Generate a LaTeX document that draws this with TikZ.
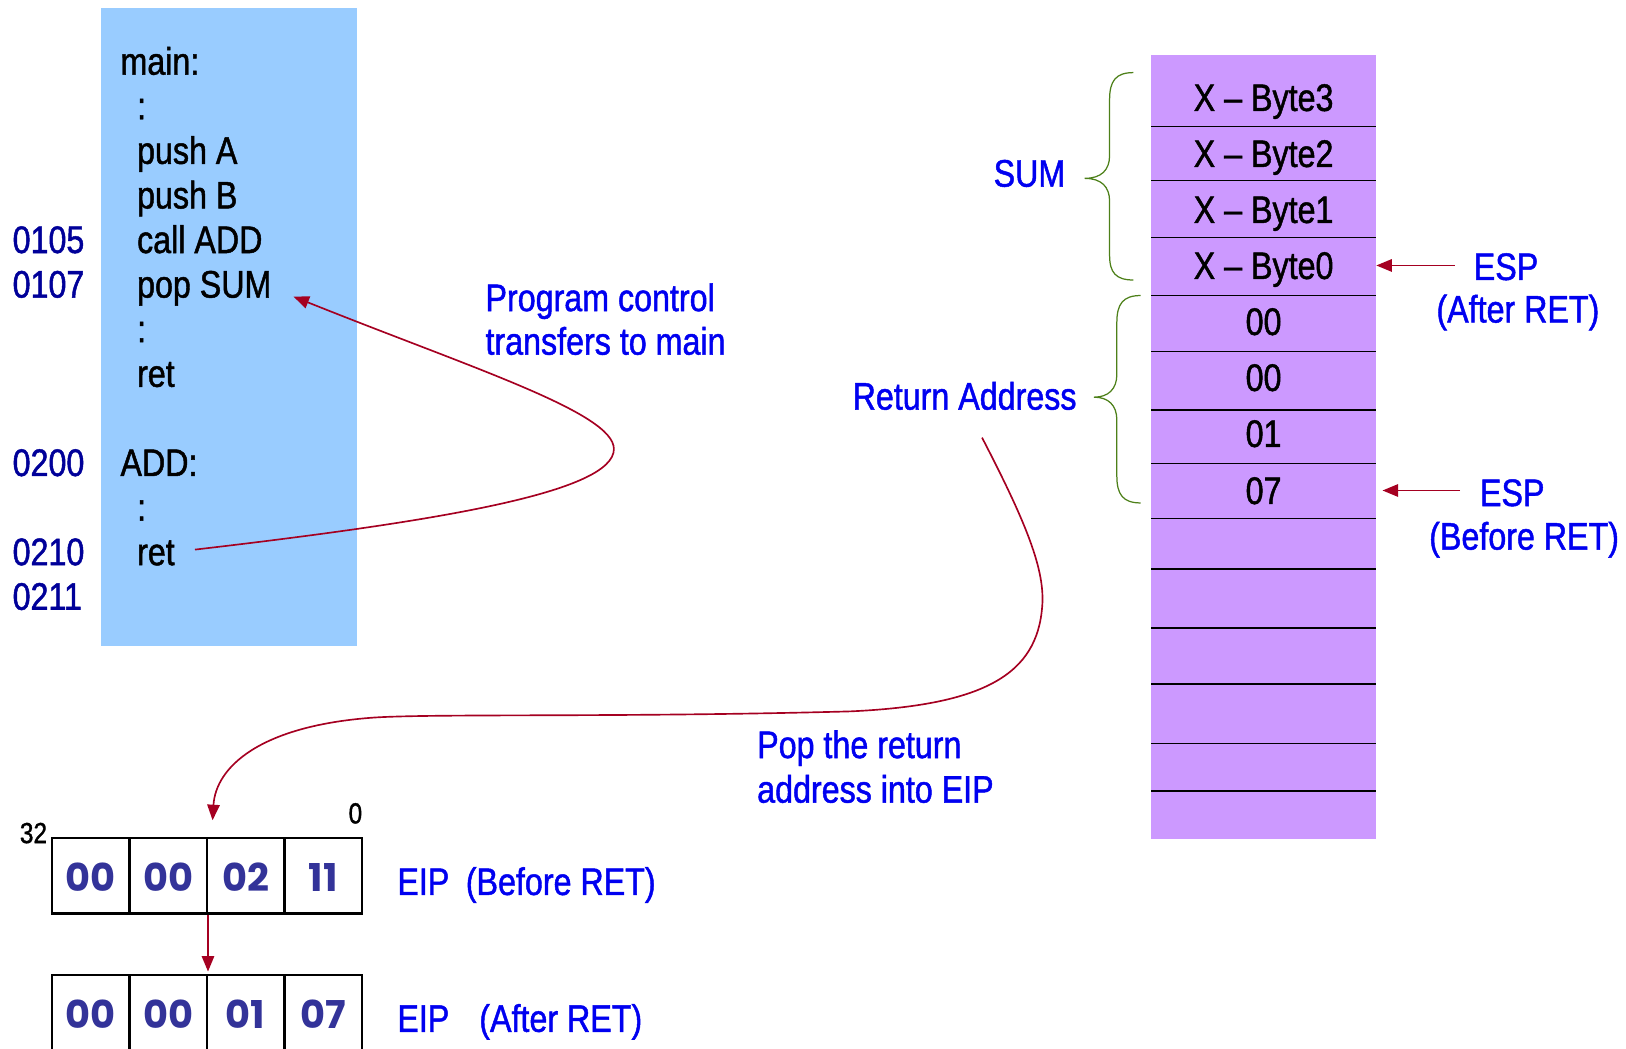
\documentclass[tikz,border=0pt]{standalone}
\usepackage{fontspec}
\setmainfont{Liberation Sans}[FakeStretch=0.84,FakeBold=1.2]
\newfontfamily\cellfont{Poppins}
\usetikzlibrary{arrows.meta}
\definecolor{codebg}{HTML}{99CCFF}
\definecolor{stackbg}{HTML}{CC99FF}
\definecolor{lblblue}{HTML}{0000F0}
\definecolor{addrblue}{HTML}{000099}
\definecolor{flowred}{HTML}{A50021}
\definecolor{bracegreen}{HTML}{4D8019}
\definecolor{celltext}{HTML}{333399}
\begin{document}
\begin{tikzpicture}[x=1pt,y=-1pt,
  txt/.style={inner sep=0pt,font=\fontsize{37}{43}\selectfont},
  code/.style={txt,anchor=base west,text=black},
  addr/.style={txt,anchor=base west,text=addrblue},
  lbl/.style={txt,anchor=base west,text=lblblue},
  small/.style={inner sep=0pt,anchor=base west,font=\fontsize{28}{30}\selectfont},
  slot/.style={txt,minimum width=217pt,minimum height=54pt,text height=30pt,text depth=4pt},
  sep/.style={line width=1.8pt,black},
  reg/.style={draw=black,line width=2.2pt,minimum width=74.75pt,minimum height=73pt,
    inner sep=0pt,text height=33pt,text depth=2pt,text=celltext,
    font=\cellfont\bfseries\fontsize{37}{40}\selectfont},
  flow/.style={draw=flowred,line width=1.6pt,-{Triangle[length=15pt,width=12pt]}},
  brace/.style={draw=bracegreen,line width=1.2pt}]
\useasboundingbox (0,0) rectangle (1568,1011);
\clip (0,0) rectangle (1568,1011);

% program listing
\fill[codebg] (97,8) rectangle (344,623);
\node[code] (lmain) at (116,72) {main:};
\node[code] (ldots1) at (132,115) {:};
\node[code] (lpusha) at (132,158) {push A};
\node[code] (lpushb) at (132,201) {push B};
\node[code] (lcall) at (132,244) {call ADD};
\node[code] (lpop) at (132,287) {pop SUM};
\node[code] (ldots2) at (132,330) {:};
\node[code] (lret1) at (132,373) {ret};
\node[code] (ladd) at (116,459) {ADD:};
\node[code] (ldots3) at (132,502) {:};
\node[code] (lret2) at (132,545) {ret};

\node[addr] (a0105) at (12,244) {0105};
\node[addr] (a0107) at (12,287) {0107};
\node[addr] (a0200) at (12,459) {0200};
\node[addr] (a0210) at (12,545) {0210};
\node[addr] (a0211) at (12,588) {0211};

% stack
\fill[stackbg] (1110,53) rectangle (1327,809);
\foreach \yy in {122,174,229,285,339,395,447,500,549,606,660,717,763}
  \draw[sep] (1110,\yy) -- (1327,\yy);
\node[slot] (s3) at (1218.5,94) {X – Byte3};
\node[slot] (s2) at (1218.5,148) {X – Byte2};
\node[slot] (s1) at (1218.5,202) {X – Byte1};
\node[slot] (s0) at (1218.5,256) {X – Byte0};
\node[slot] (r3) at (1218.5,310) {00};
\node[slot] (r2) at (1218.5,364) {00};
\node[slot] (r1) at (1218.5,418) {01};
\node[slot] (r0) at (1218.5,473) {07};

% braces
\draw[brace] (1093,70) .. controls (1076,70) and (1070,78) .. (1070,96) -- (1070,150)
  .. controls (1070,164) and (1062,172) .. (1046,172)
  .. controls (1062,172) and (1070,180) .. (1070,194) -- (1070,246)
  .. controls (1070,263) and (1076,270) .. (1093,270);
\draw[brace] (1100,285) .. controls (1083,285) and (1077,293) .. (1077,311) -- (1077,361)
  .. controls (1077,375) and (1069,383) .. (1055,383)
  .. controls (1069,383) and (1077,391) .. (1077,405) -- (1077,459)
  .. controls (1077,477) and (1083,485) .. (1100,485);
\node[lbl] (sum) at (958,180) {SUM};
\node[lbl] (retaddr) at (822,395) {Return Address};

% stack pointer labels
\node[lbl] (espa) at (1421,270) {ESP};
\node[lbl] (espa2) at (1385,311) {(After RET)};
\node[lbl] (espb) at (1427,488) {ESP};
\node[lbl] (espb2) at (1378,530) {(Before RET)};
\draw[flow] ([xshift=-18pt]espa.west |- s0.east) -- (s0.east);
\draw[flow] ([xshift=-19pt]espb.west |- r0.east) -- ([xshift=6pt]r0.east);

% EIP registers
\node[reg] (b3) at (87.4,844.5) {00};
\node[reg] (b2) at (162.1,844.5) {00};
\node[reg] (b1) at (236.9,844.5) {02};
\node[reg] (b0) at (311.6,844.5) {11};
\node[reg] (n3) at (87.4,976.5) {00};
\node[reg] (n2) at (162.1,976.5) {00};
\node[reg] (n1) at (236.9,976.5) {01};
\node[reg] (n0) at (311.6,976.5) {07};
\node[small] (bit32) at (19,813) {32};
\node[small] (bit0) at (336,794) {0};
\node[lbl] (eipb) at (383,863) {EIP};
\node[lbl] (eipb2) at (449,863) {(Before RET)};
\node[lbl] (eipa) at (383,995) {EIP};
\node[lbl] (eipa2) at (462,995) {(After RET)};
\draw[flow] (b2.south east) -- ([yshift=2pt]n2.north east);

% control flow annotations
\node[lbl] (ctl1) at (468,300) {Program control};
\node[lbl] (ctl2) at (468,342) {transfers to main};
\node[lbl] (pop1) at (730,731) {Pop the return};
\node[lbl] (pop2) at (730,774) {address into EIP};

\coordinate (retfrom) at (188,530);
\coordinate (retto) at (283,286);
\draw[flow] (retfrom) .. controls (420,503) and (592,475) .. (592,433)
  .. controls (592,398) and (455,355) .. (retto);

\coordinate (popfrom) at (947,422);
\coordinate (popto) at (205,791);
\draw[flow] (popfrom) .. controls (990,505) and (1008,550) .. (1005,585)
  .. controls (1000,650) and (950,680) .. (820,686)
  .. controls (600,692) and (420,688) .. (360,692)
  .. controls (250,700) and (208,740) .. (popto);
\end{tikzpicture}
\end{document}
